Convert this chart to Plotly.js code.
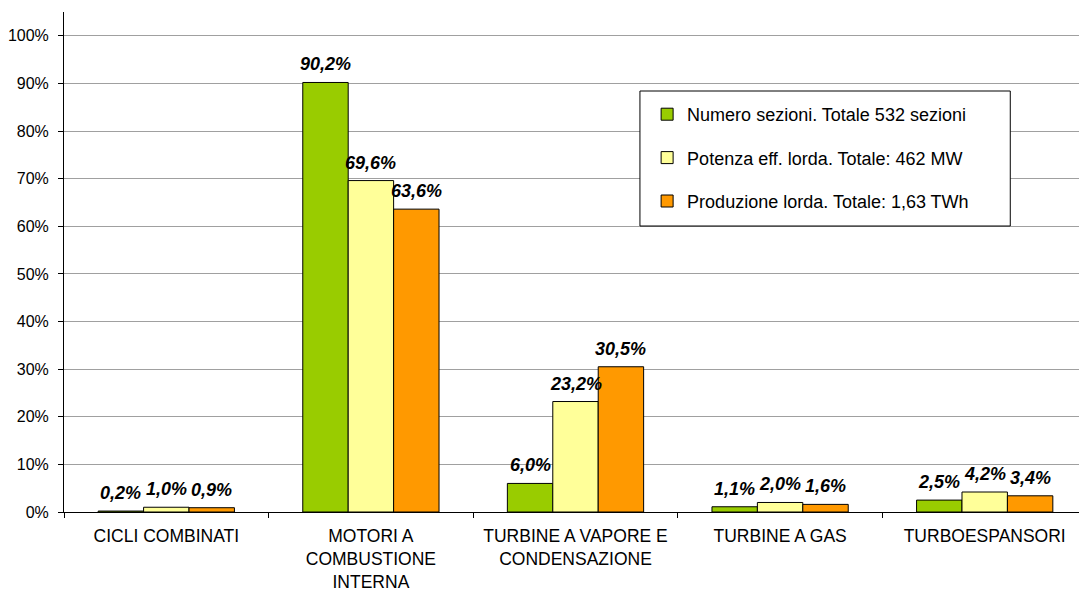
<!DOCTYPE html>
<html><head><meta charset="utf-8">
<script src="https://cdn.plot.ly/plotly-3.0.1.min.js"></script>
<style>html,body{margin:0;padding:0;background:#fff;overflow:hidden}#chart{width:1087px;height:592px}</style>
</head><body><div id="chart"></div>
<script>
const categories = ["CICLI COMBINATI", "MOTORI A<br>COMBUSTIONE<br>INTERNA", "TURBINE A VAPORE E<br>CONDENSAZIONE", "TURBINE A GAS", "TURBOESPANSORI"];
const seriesNames = ["Numero sezioni. Totale 532 sezioni", "Potenza eff. lorda. Totale: 462 MW", "Produzione lorda. Totale: 1,63 TWh"];
const numeroSezioni = [0.002, 0.902, 0.060, 0.011, 0.025];
const potenza = [0.010, 0.696, 0.232, 0.020, 0.042];
const produzione = [0.009, 0.636, 0.305, 0.016, 0.034];
const colors = ["#99CC00", "#FFFF99", "#FF9900"];

const FONT = 'Liberation Sans, Arial, sans-serif';
const fmt = v => (v*100).toFixed(1).replace('.', ',') + '%';
const allSeries = [numeroSezioni, potenza, produzione];
const traces = allSeries.map((vals, i) => ({
  type: 'bar', name: seriesNames[i], x: categories, y: vals,
  marker: {color: colors[i], line: {color: '#000', width: 1}},
  legendgroup: 'g' + i, hoverinfo: 'skip'
}));

const W = 1087, H = 592;
const margin = {l: 64, r: 0, t: 12, b: 80};
const bargap = 0.334;
const plotW = W - margin.l - margin.r;
const barPx = plotW / categories.length * (1 - bargap) / allSeries.length;
const annotations = [];
allSeries.forEach((vals, i) => vals.forEach((v, j) => {
  annotations.push({x: categories[j], y: v, xref: 'x', yref: 'y', text: '<b><i>' + fmt(v) + '</i></b>',
    showarrow: false, xanchor: 'center', yanchor: 'bottom', xshift: (i - 1) * barPx, yshift: 6,
    font: {family: FONT, size: 18, color: '#000'}});
}));

const layout = {
  width: W, height: H, margin: margin,
  paper_bgcolor: '#fff', plot_bgcolor: '#fff',
  font: {family: FONT, color: '#000', size: 16},
  barmode: 'group', bargap: bargap, bargroupgap: 0,
  annotations: annotations,
  shapes: [{type: 'rect', xref: 'paper', yref: 'paper', x0: 0.563, x1: 0.925, y0: 0.572, y1: 0.842,
            line: {color: '#000', width: 1}, fillcolor: '#fff', layer: 'above'}],
  xaxis: {type: 'category', showgrid: false, showline: true, linecolor: '#000', linewidth: 1,
          ticks: 'outside', tickson: 'boundaries', ticklen: 5, tickcolor: '#000',
          ticklabelstandoff: 8,
          tickfont: {size: 17.5, color: '#000'}, zeroline: false},
  yaxis: {range: [0, 1.05], tickvals: [0,0.1,0.2,0.3,0.4,0.5,0.6,0.7,0.8,0.9,1.0],
          ticktext: ['0%','10%','20%','30%','40%','50%','60%','70%','80%','90%','100%'],
          showgrid: true, gridcolor: '#a0a0a0', gridwidth: 1, showline: true, linecolor: '#000',
          ticks: 'outside', ticklen: 5, tickcolor: '#000', zeroline: false, ticklabelstandoff: 6,
          tickfont: {size: 16, color: '#000'}},
  legend: {x: 0.570, y: 0.832, xanchor: 'left', yanchor: 'top', borderwidth: 0,
           bgcolor: 'rgba(0,0,0,0)', font: {size: 18, color: '#000'}, traceorder: 'grouped', tracegroupgap: 17,
           itemwidth: 30},
  showlegend: true
};
Plotly.newPlot('chart', traces, layout, {displayModeBar: false, staticPlot: true});
</script></body></html>
